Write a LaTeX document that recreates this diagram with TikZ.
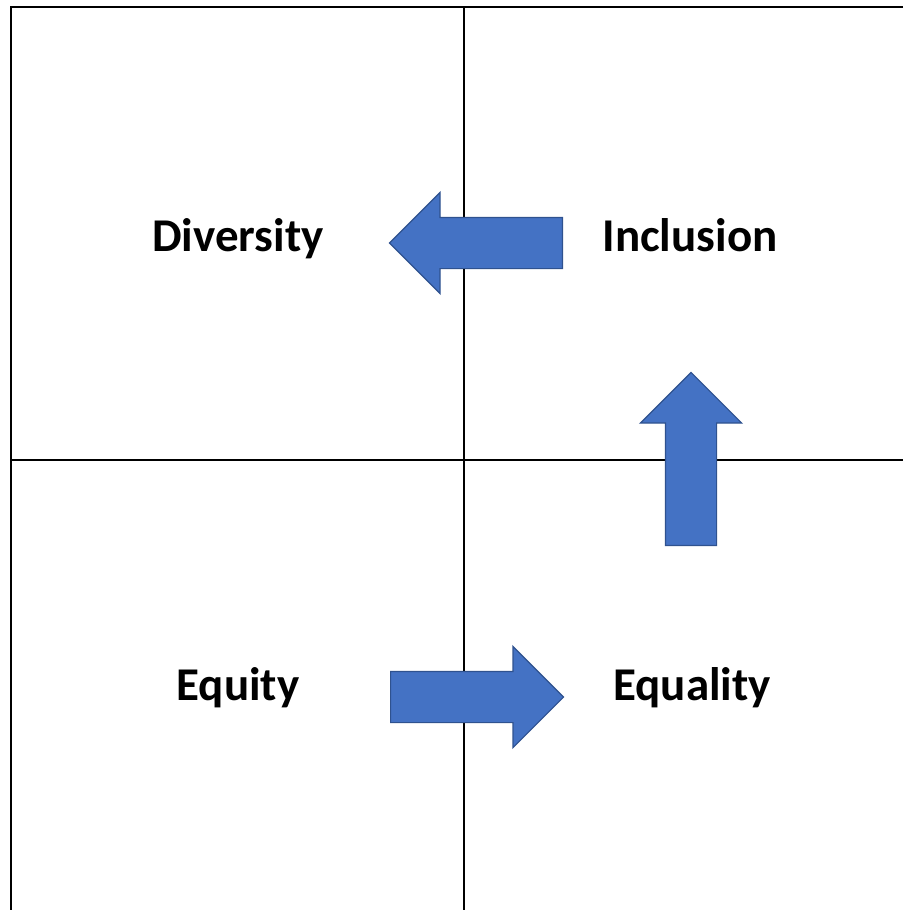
\documentclass[tikz,border=0pt]{standalone}
\usepackage{fontspec}
\setmainfont{Carlito}
\usetikzlibrary{shapes.arrows}
\definecolor{blkblue}{RGB}{68,114,196}
\definecolor{blkedge}{RGB}{47,82,143}

\begin{document}
\begin{tikzpicture}[
    x=1pt,y=-1pt,
    grid/.style={draw=black,line width=2pt},
    lbl/.style={anchor=base,font=\fontsize{47}{56}\selectfont\bfseries},
    barrow/.style={single arrow,fill=blkblue,draw=blkedge,line width=1.2pt,
                   minimum height=173pt,minimum width=100pt,
                   single arrow head extend=25pt,inner sep=0pt,
                   text height=25pt,text depth=25pt,text width=0pt,
                   anchor=tail},
  ]
  \useasboundingbox (0,0) rectangle (903,910);

  %% ── Quadrant lines ────────────────────────────────────────────────────────
  \draw[grid] (903,6.5) -- (10.5,6.5) -- (10.5,910);
  \draw[grid] (464,6.5) -- (464,910);
  \draw[grid] (10.5,460) -- (903,460);

  %% ── Labels ────────────────────────────────────────────────────────────────
  \node[lbl] (div) at (238,251) {Diversity};
  \node[lbl] (inc) at (690,251) {Inclusion};
  \node[lbl] (equ) at (238,700) {Equity};
  \node[lbl] (eql) at (692,700) {Equality};

  %% ── Block arrows (placed by their tails) ──────────────────────────────────
  \node[barrow,rotate=180] (toDiv) at (563,243) {};
  \node[barrow,rotate=90]  (toInc) at (691,546) {};
  \node[barrow]            (toEql) at (390,697) {};

\end{tikzpicture}
\end{document}
